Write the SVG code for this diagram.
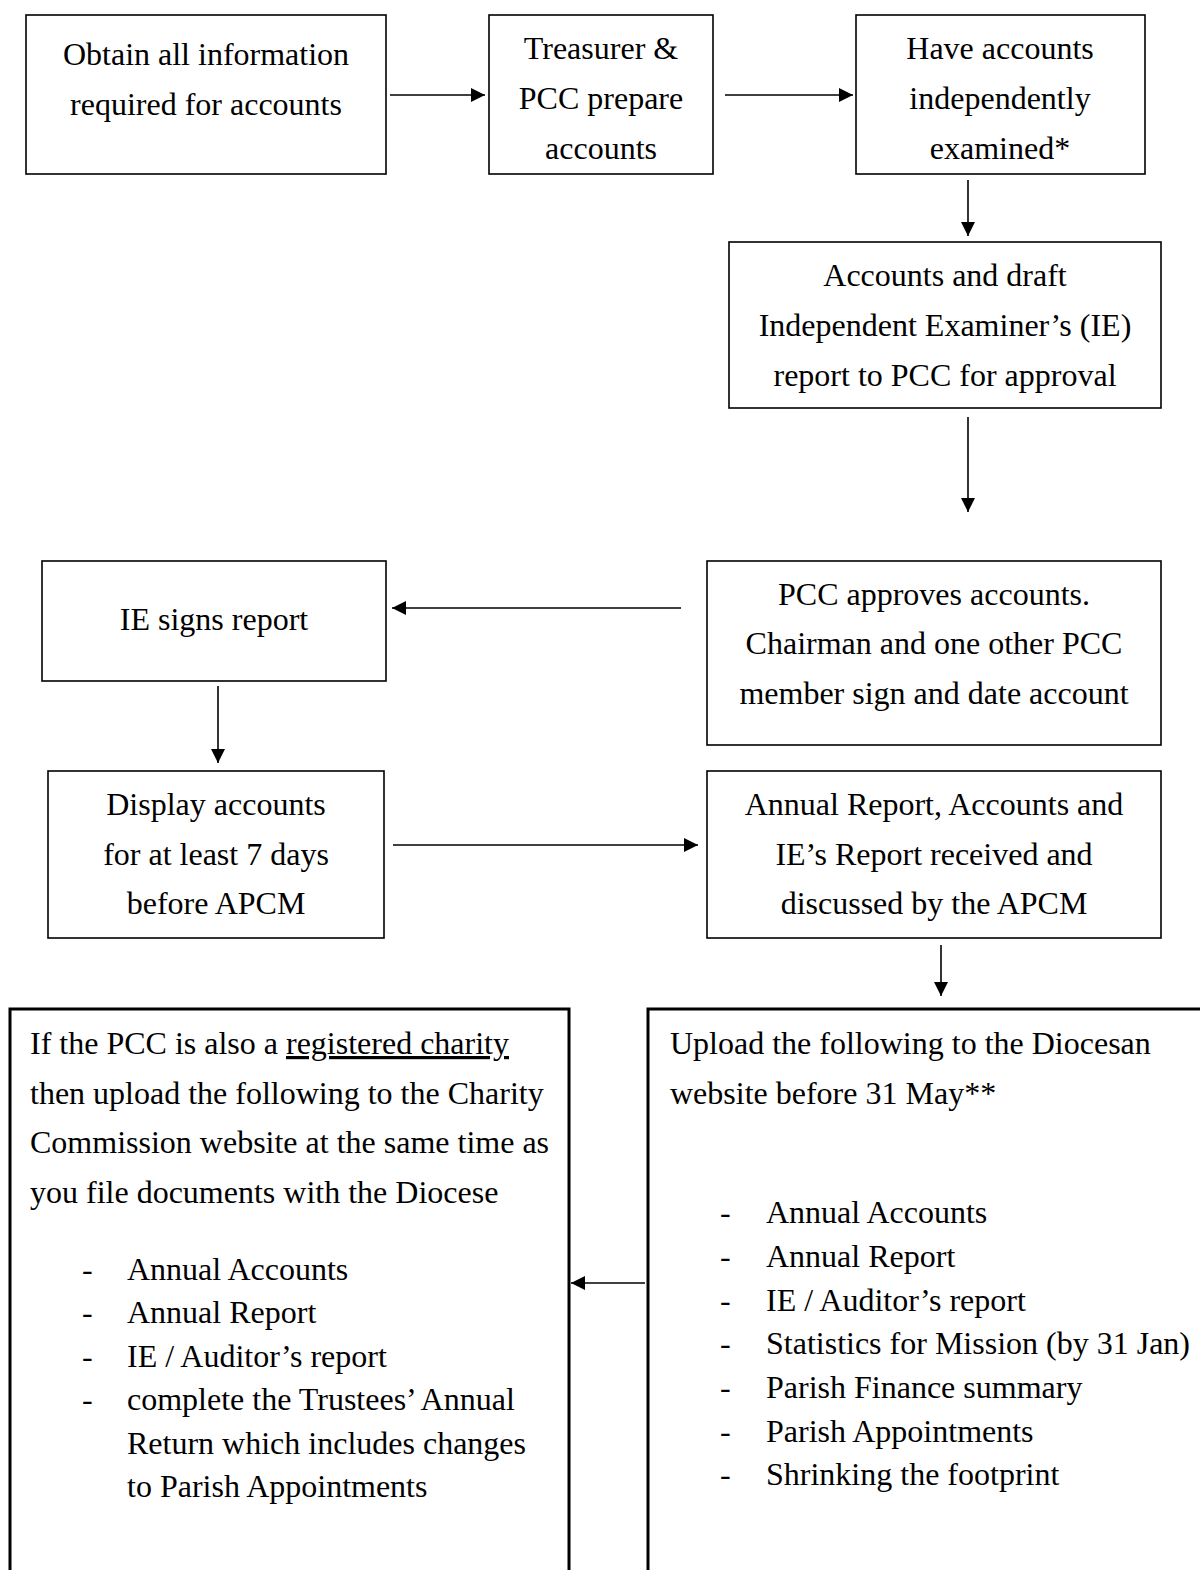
<svg xmlns="http://www.w3.org/2000/svg" width="1200" height="1570" viewBox="0 0 1200 1570">
<defs>
<style>
.box{fill:#fff;stroke:#000;stroke-width:1.6}
.big{fill:#fff;stroke:#000;stroke-width:3}
text{font-family:"Liberation Serif","Times New Roman",serif;font-size:32px;fill:#000}
.c{text-anchor:middle}
.con{stroke:#000;stroke-width:1.6;fill:none;marker-end:url(#ah)}
</style>
<marker id="ah" markerUnits="userSpaceOnUse" markerWidth="16" markerHeight="16" refX="14" refY="7" orient="auto">
<path d="M0,0 L14,7 L0,14 Z" fill="#000"/>
</marker>
</defs>
<rect width="1200" height="1570" fill="#fff"/>
<g id="n1"><rect class="box" x="26" y="15" width="360" height="159"/>
<text class="c" x="206" y="65">Obtain all information</text>
<text class="c" x="206" y="115">required for accounts</text></g>
<g id="n2"><rect class="box" x="489" y="15" width="224" height="159"/>
<text class="c" x="601" y="59">Treasurer &amp;</text>
<text class="c" x="601" y="109">PCC prepare</text>
<text class="c" x="601" y="159">accounts</text></g>
<g id="n3"><rect class="box" x="856" y="15" width="289" height="159"/>
<text class="c" x="1000" y="59">Have accounts</text>
<text class="c" x="1000" y="109">independently</text>
<text class="c" x="1000" y="159">examined*</text></g>
<g id="n4"><rect class="box" x="729" y="242" width="432" height="166"/>
<text class="c" x="945" y="286">Accounts and draft</text>
<text class="c" x="945" y="336">Independent Examiner’s (IE)</text>
<text class="c" x="945" y="386">report to PCC for approval</text></g>
<g id="n5"><rect class="box" x="707" y="561" width="454" height="184"/>
<text class="c" x="934" y="605">PCC approves accounts.</text>
<text class="c" x="934" y="654">Chairman and one other PCC</text>
<text class="c" x="934" y="704">member sign and date account</text></g>
<g id="n6"><rect class="box" x="42" y="561" width="344" height="120"/>
<text class="c" x="214" y="630">IE signs report</text></g>
<g id="n7"><rect class="box" x="48" y="771" width="336" height="167"/>
<text class="c" x="216" y="815">Display accounts</text>
<text class="c" x="216" y="865">for at least 7 days</text>
<text class="c" x="216" y="914">before APCM</text></g>
<g id="n8"><rect class="box" x="707" y="771" width="454" height="167"/>
<text class="c" x="934" y="815">Annual Report, Accounts and</text>
<text class="c" x="934" y="865">IE’s Report received and</text>
<text class="c" x="934" y="914">discussed by the APCM</text></g>
<g id="n9"><rect class="big" x="648" y="1009" width="570" height="600"/>
<text x="670" y="1054">Upload the following to the Diocesan</text>
<text x="670" y="1104">website before 31 May**</text>
<text x="720" y="1223">-</text><text x="766" y="1223">Annual Accounts</text>
<text x="720" y="1267">-</text><text x="766" y="1267">Annual Report</text>
<text x="720" y="1311">-</text><text x="766" y="1311">IE / Auditor’s report</text>
<text x="720" y="1354">-</text><text x="766" y="1354">Statistics for Mission (by 31 Jan)</text>
<text x="720" y="1398">-</text><text x="766" y="1398">Parish Finance summary</text>
<text x="720" y="1442">-</text><text x="766" y="1442">Parish Appointments</text>
<text x="720" y="1485">-</text><text x="766" y="1485">Shrinking the footprint</text></g>
<g id="n10"><rect class="big" x="10" y="1009" width="559" height="600"/>
<text x="30" y="1054">If the PCC is also a <tspan text-decoration="underline">registered charity</tspan></text>
<text x="30" y="1104">then upload the following to the Charity</text>
<text x="30" y="1153">Commission website at the same time as</text>
<text x="30" y="1203">you file documents with the Diocese</text>
<text x="82" y="1280">-</text><text x="127" y="1280">Annual Accounts</text>
<text x="82" y="1323">-</text><text x="127" y="1323">Annual Report</text>
<text x="82" y="1367">-</text><text x="127" y="1367">IE / Auditor’s report</text>
<text x="82" y="1410">-</text><text x="127" y="1410">complete the Trustees’ Annual</text>
<text x="127" y="1454">Return which includes changes</text>
<text x="127" y="1497">to Parish Appointments</text></g>
<g id="connectors">
<path class="con" d="M390,95 H485"/>
<path class="con" d="M725,95 H853"/>
<path class="con" d="M968,180 V236"/>
<path class="con" d="M968,417 V512"/>
<path class="con" d="M681,608 H392"/>
<path class="con" d="M218,686 V763"/>
<path class="con" d="M393,845 H698"/>
<path class="con" d="M941,945 V996"/>
<path class="con" d="M645,1283 H571"/>
</g>
</svg>
